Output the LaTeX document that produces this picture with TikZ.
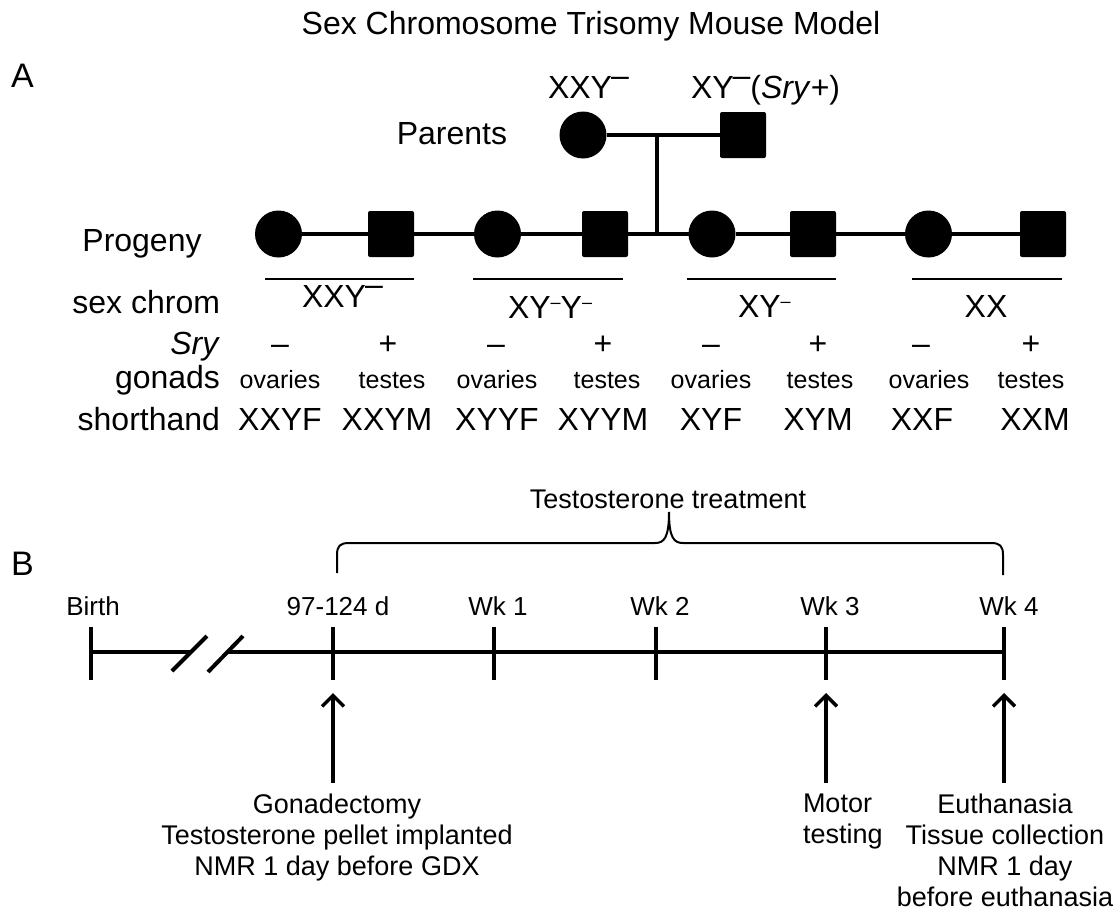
\documentclass[tikz,border=0pt]{standalone}
\usepackage{fontspec}
\setmainfont{Liberation Sans}
\usetikzlibrary{arrows.meta}
\newcommand\fs[1]{\fontsize{#1}{#1}\selectfont}
\newcommand\lsup{\raisebox{12pt}{\kern-1pt–}}
\newcommand\ssup{\raisebox{10pt}{\fontsize{18}{18}\selectfont –}}
\begin{document}
\begin{tikzpicture}[x=1pt,y=-1pt,
  every node/.style={inner sep=0pt, outer sep=0pt},
  txt/.style={font=\fs{32}},
  small/.style={font=\fs{25}},
  tlab/.style={font=\fs{26}},
  note/.style={font=\fontsize{27}{31}\selectfont, align=center},
  fem/.style={circle, fill=black, minimum size=47pt},
  mal/.style={rectangle, fill=black, minimum size=46pt, rounded corners=2pt},
  ped/.style={line width=4pt},
  ovl/.style={line width=1.2pt},
  tl/.style={line width=4pt},
  tick/.style={line width=4.5pt},
  brc/.style={line width=2pt},
  arr/.style={line width=3.5pt, -{Straight Barb[length=11pt,width=22pt,line width=3.5pt]}}
]
\useasboundingbox (0,0) rectangle (1117,913);

% titles
\node[txt, anchor=base] (title) at (591,34) {Sex Chromosome Trisomy Mouse Model};
\node[font=\fs{34}, anchor=base west] (lA) at (11,87) {A};
\node[font=\fs{34}, anchor=base west] (lB) at (11,575) {B};

% parents
\node[txt, anchor=base] (parents) at (452,144) {Parents};
\node[fem] (pm) at (583,135) {};
\node[mal] (pf) at (743,135) {};
\node[txt, anchor=base west] (pmlab) at (548,98) {XXY\lsup};
\node[txt, anchor=base west] (pflab) at (691,98) {XY\lsup(\textit{Sry}+)};
\draw[ped] (pm) -- (pf);
\coordinate (pj) at (657,135);

% progeny
\node[txt, anchor=base] (progeny) at (142,251) {Progeny};
\node[fem] (c1) at (278.5,234) {};
\node[mal] (s1) at (391,234) {};
\node[fem] (c2) at (497.5,234) {};
\node[mal] (s2) at (605,234) {};
\node[fem] (c3) at (712,234) {};
\node[mal] (s3) at (813,234) {};
\node[fem] (c4) at (928.5,234) {};
\node[mal] (s4) at (1043,234) {};
\draw[ped] (c1) -- (s1) -- (c2) -- (s2) -- (c3) -- (s3) -- (c4) -- (s4);
\draw[ped] (pj) -- (pj |- c1);

% overlines
\draw[ovl] (265,279) -- (414,279);
\draw[ovl] (473,279) -- (623,279);
\draw[ovl] (687,279) -- (836,279);
\draw[ovl] (912,279) -- (1062,279);

% row labels
\node[txt, anchor=base east] (rsex) at (220,313) {sex chrom};
\node[txt, anchor=base east] (rsry) at (220,354) {\textit{Sry}};
\node[txt, anchor=base east] (rgon) at (220,388) {gonads};
\node[txt, anchor=base east] (rsh) at (220,430) {shorthand};

% sex chrom
\node[txt, anchor=base west] (g1) at (302,307) {XXY\lsup};
\node[txt, anchor=base west] (g2) at (508,318) {XY\ssup Y\ssup};
\node[txt, anchor=base west] (g3) at (738,317) {XY\ssup};
\node[txt, anchor=base] (g4) at (986,317) {XX};

% Sry
\foreach \x/\s [count=\i] in {280/–,388/+,496/–,603/+,711/–,818/+,921/–,1031/+}
  \node[txt, anchor=base] (sry\i) at (\x,354) {\s};

% gonads
\foreach \x/\s [count=\i] in {280/ovaries,392/testes,497/ovaries,607/testes,711/ovaries,820/testes,929/ovaries,1031/testes}
  \node[small, anchor=base] (gon\i) at (\x,388) {\s};

% shorthand
\foreach \x/\s [count=\i] in {280/XXYF,387/XXYM,497/XYYF,603/XYYM,711/XYF,818/XYM,922/XXF,1035/XXM}
  \node[txt, anchor=base] (sh\i) at (\x,430) {\s};

% ---------------- B: timeline
\node[font=\fs{27}, anchor=base] (tt) at (668,508) {Testosterone treatment};
\draw[brc] (337,573) -- (337,555) .. controls (337,546) and (340,543) .. (349,543)
  -- (655,543) .. controls (664,543) and (669,538) .. (669,512)
  .. controls (669,538) and (674,543) .. (683,543)
  -- (991,543) .. controls (1000,543) and (1003,546) .. (1003,555) -- (1003,575);

\coordinate (t0) at (91,652);
\coordinate (t1) at (333,652);
\coordinate (t2) at (494,652);
\coordinate (t3) at (656,652);
\coordinate (t4) at (826,652);
\coordinate (t5) at (1004,652);
\coordinate (bk1) at (191,652);
\coordinate (bk2) at (227,652);
\draw[tl] (t0) -- (bk1);
\draw[tl] (bk2) -- (t5);
\draw[tl] (172,671) -- (207,636);
\draw[tl] (208,672) -- (243,636);
\foreach \t in {t0,t1,t2,t3,t4,t5}
  \draw[tick] (\t) ++(0,-25) -- ++(0,53);

\node[tlab, anchor=base] (lb0) at (93,615) {Birth};
\node[tlab, anchor=base] (lb1) at (338,615) {97-124 d};
\node[tlab, anchor=base] (lb2) at (498,615) {Wk 1};
\node[tlab, anchor=base] (lb3) at (660,615) {Wk 2};
\node[tlab, anchor=base] (lb4) at (830,615) {Wk 3};
\node[tlab, anchor=base] (lb5) at (1009,615) {Wk 4};

% arrows and notes
\node[note, anchor=north] (n1) at (337,793.5) {Gonadectomy\\Testosterone pellet implanted\\NMR 1 day before GDX};
\node[note, align=left, anchor=north west] (n2) at (803,793.5) {Motor\\testing};
\node[note, anchor=north] (n3) at (1005,793.5) {Euthanasia\\Tissue collection\\NMR 1 day\\before euthanasia};
\coordinate (a1) at (333,783);
\coordinate (a2) at (826,783);
\coordinate (a3) at (1004,783);
\draw[arr] (a1) -- (a1 |- 0,693);
\draw[arr] (a2) -- (a2 |- 0,693);
\draw[arr] (a3) -- (a3 |- 0,693);
\end{tikzpicture}
\end{document}
